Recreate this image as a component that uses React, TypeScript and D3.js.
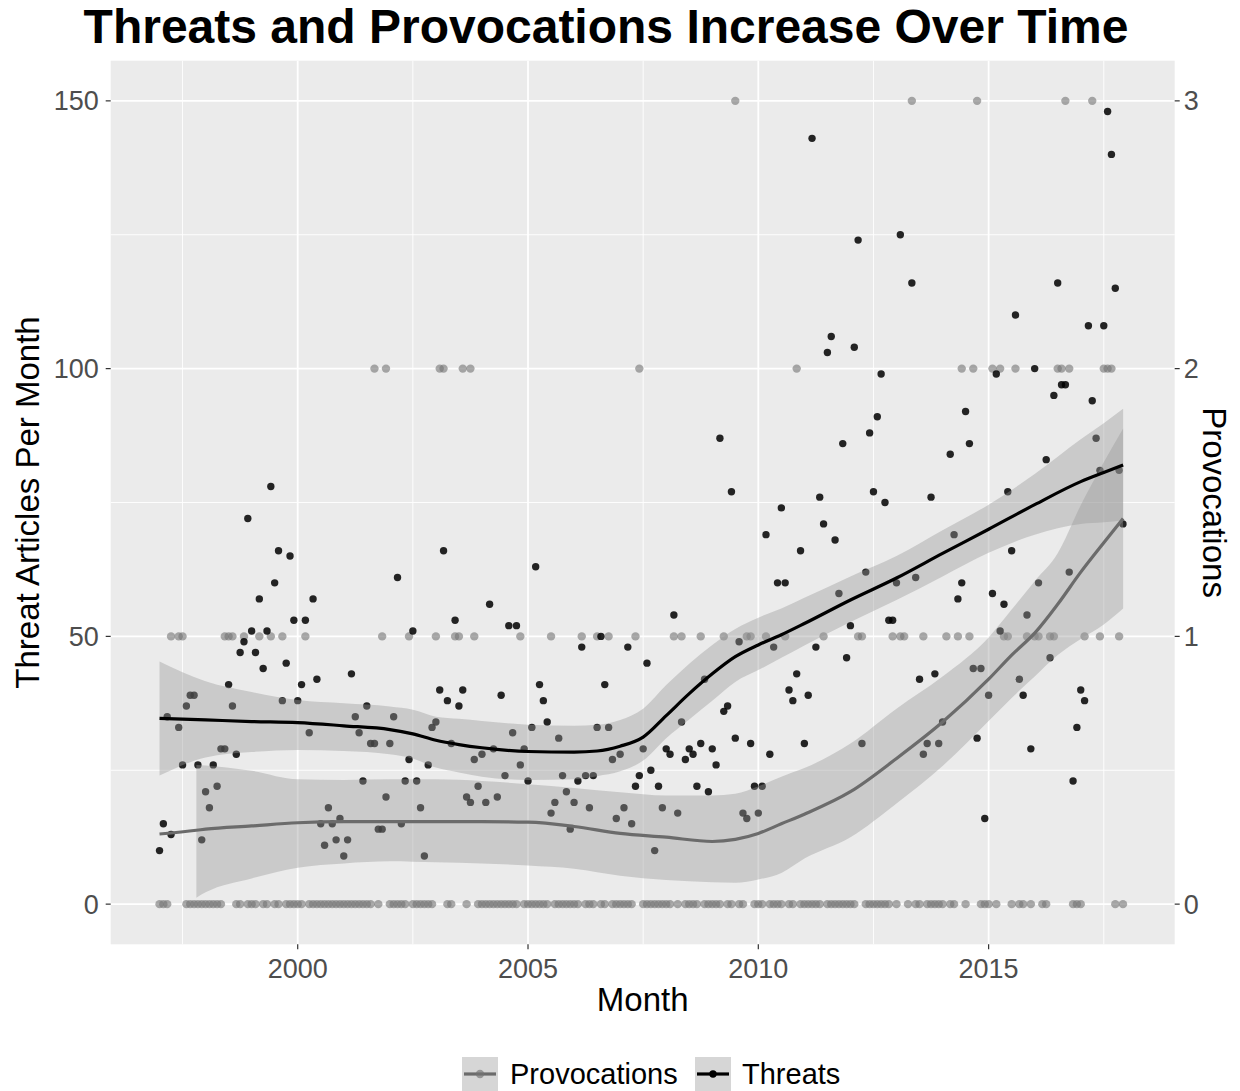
import React from "react";
import * as d3 from "d3";

// Monthly data, Jan 1997 .. Dec 2017 (index i -> 1997 + i/12)
const threats: (number | null)[] = [
  10, 15, 35, 13, null, 33, 26, 37, 39, 39, 26, 12,
  21, 18, 26, 22, 29, 29, 41, 37, 28, 47, 49, 72,
  51, 47, 57, 44, 51, 78, 60, 66, 38, 45, 65, 53,
  38, 41, 53, 32, 57, 42, 15, 11, 18, 15, 12, 16,
  9, 12, 43, 35, 32, 23, 37, 30, 30, 14, 14, 20,
  30, 35, 61, 15, 23, 27, 51, 23, 18, 9, 26, 33,
  34, 40, 66, 38, 30, 53, 37, 40, 20, 19, 27, 22,
  28, 19, 56, 29, 20, 39, 24, 52, 32, 52, 26, 29,
  23, 33, 63, 41, 38, 34, 17, 19, 31, 24, 21, 14,
  19, 23, 48, 24, 18, 24, 33, 50, 41, 33, 27, 16,
  28, 18, 48, 15, 22, 24, 29, 45, 25, 10, 22, 18,
  29, 28, 54, 17, 34, 27, 29, 28, 22, 30, 42, 21,
  29, 26, 87, 36, 37, 77, 31, 49, 17, 16, 30, 22,
  17, 22, 69, 28, 48, 60, 74, 60, 40, 38, 43, 66,
  30, 39, 143, 48, 76, 71, 103, 106, 68, 58, 86, 46,
  52, 104, 124, 30, 62, 88, 77, 91, 99, 75, 53, 53,
  60, 125, null, null, 116, 61, 42, 28, 30, 76, 43, 30,
  34, null, 84, 69, 57, 60, 92, 86, 44, 31, 44, 16,
  39, 58, 99, 51, 56, 77, 66, 110, 42, 39, 54, 29,
  100, 60, null, 83, 46, 95, 116, 97, 97, 62, 23, 33,
  40, 38, 108, 94, 87, 81, 108, 148, 140, 115, 81, 71,
];

const provocations: (number | null)[] = [
  0, 0, 0, 1, null, 1, 1, 0, 0, 0, 0, 0,
  0, 0, 0, 0, 0, 1, 1, 1, 0, 0, 1, 0,
  0, 0, 1, 0, 0, 1, 0, 0, 1, 0, 0, 0,
  0, 0, 1, 0, 0, 0, 0, 0, 0, 0, 0, 0,
  0, 0, 0, 0, 0, 0, 0, 0, 2, 0, 1, 2,
  0, 0, 0, 0, 0, 1, 0, 0, 0, 0, 0, 0,
  1, 2, 2, 0, 0, 1, 1, 2, 0, 2, 1, 0,
  0, 0, 0, 0, 0, 0, 0, 0, 0, 0, 1, 0,
  0, 0, 0, 0, 0, 0, 1, 0, 0, 0, 0, 0,
  0, 0, 1, 0, 0, 0, 1, 0, 0, 1, 0, 0,
  0, 0, 0, 0, 1, 2, 0, 0, 0, 0, 0, 0,
  0, 0, 1, 0, 1, 0, 0, 0, 0, 1, 0, 0,
  0, 0, 0, 1, 0, 0, 3, 0, 0, 1, 1, 0,
  0, 0, 1, 0, 0, 0, 0, 1, 0, 0, 2, 0,
  0, 0, 0, 0, 0, 1, 0, 0, 0, 0, 0, 0,
  0, 0, 1, 1, 0, 0, 0, 0, 0, 0, 0, 1,
  0, 1, 1, 0, 3, 0, 0, 1, 0, 0, 0, 0,
  0, 1, 0, 0, 1, 2, 0, 1, 2, 3, 0, 0,
  0, 2, 0, 2, 1, 1, 0, 2, 0, 0, 1, 0,
  1, 1, 0, 0, 1, 1, 2, 2, 3, 2, 0, 0,
  0, 1, null, 3, null, 1, 2, 2, 2, 0, 1, 0,
];

// Smoothed fits (year, fit, lower, upper), in left-axis units
const threatSmoothYear = [1997.0, 1998.0, 1999.0, 2000.0, 2001.0, 2002.0, 2002.5, 2003.0, 2003.5, 2004.0, 2005.0, 2006.0, 2006.5, 2007.0, 2007.5, 2008.0, 2008.5, 2009.0, 2009.5, 2010.0, 2010.5, 2011.0, 2012.0, 2013.0, 2014.0, 2015.0, 2016.0, 2017.0, 2017.5, 2017.92];
const threatFit = [34.7, 34.4, 34.1, 33.9, 33.3, 32.6, 31.8, 30.6, 29.8, 29.2, 28.5, 28.4, 28.6, 29.5, 31.2, 35.2, 39.3, 43.0, 46.2, 48.4, 50.3, 52.4, 56.8, 60.9, 65.5, 70.0, 74.6, 78.9, 80.6, 82.0];
const threatLow = [24.0, 27.4, 28.4, 28.8, 28.6, 28.0, 27.2, 25.5, 24.6, 23.8, 23.2, 23.3, 23.9, 24.8, 26.8, 31.0, 34.5, 38.0, 41.5, 43.7, 46.0, 48.3, 52.7, 56.8, 61.2, 65.6, 69.0, 71.0, 71.3, 71.7];
const threatHigh = [45.3, 41.6, 39.6, 38.1, 37.5, 36.9, 36.3, 35.0, 34.6, 34.2, 33.5, 33.3, 33.5, 34.4, 36.5, 40.9, 44.9, 48.4, 51.4, 53.5, 55.2, 57.2, 61.2, 65.0, 69.8, 74.6, 80.3, 86.8, 89.8, 92.5];

const provSmoothYear = [1997.0, 1997.8, 1998.0, 1999.0, 2000.0, 2001.0, 2002.0, 2003.0, 2004.0, 2005.0, 2006.0, 2007.0, 2008.0, 2009.0, 2009.5, 2010.0, 2010.5, 2011.0, 2012.0, 2013.0, 2014.0, 2015.0, 2015.5, 2016.0, 2016.5, 2017.0, 2017.5, 2017.92];
const provFit = [13.1, 13.8, 14.0, 14.6, 15.2, 15.4, 15.4, 15.4, 15.4, 15.3, 14.5, 13.2, 12.5, 11.7, 12.1, 13.2, 15.0, 16.8, 21.0, 27.2, 34.0, 42.0, 46.5, 50.6, 56.0, 62.0, 67.5, 72.0];
const provLow = [null, 1.2, 2.2, 4.8, 6.8, 7.6, 8.0, 7.8, 7.6, 7.2, 6.6, 5.3, 4.5, 4.1, 4.0, 4.6, 5.8, 8.5, 12.5, 18.8, 25.8, 34.2, 38.5, 42.5, 46.5, 49.5, 52.2, 55.2];
const provHigh = [null, 26.0, 25.9, 24.9, 23.3, 23.2, 23.3, 23.3, 23.0, 22.4, 21.7, 20.9, 20.3, 20.3, 20.6, 22.0, 23.8, 25.4, 30.0, 36.5, 42.5, 49.8, 55.0, 60.3, 65.5, 74.5, 82.5, 88.8];

const xTicks = [2000, 2005, 2010, 2015];
const xMinor = [1997.5, 2002.5, 2007.5, 2012.5, 2017.5];
const yTicks = [0, 50, 100, 150];
const yMinor = [25, 75, 125];
const rightTickLabels = ["0", "1", "2", "3"];
const provScale = 50;

const W = 1240;
const H = 1091;
const P = { left: 110.7, right: 1174.7, top: 60.7, bottom: 944.3 };
const FONT = "'Liberation Sans', Arial, Helvetica, sans-serif";

export default function App() {
  const x = d3.scaleLinear().domain([1995.94, 2019.04]).range([P.left, P.right]);
  const y = d3.scaleLinear().domain([-7.5, 157.5]).range([P.bottom, P.top]);
  const monthYear = (i: number) => 1997 + i / 12;

  const lineGen = d3
    .line<[number, number]>()
    .x((d) => x(d[0]))
    .y((d) => y(d[1]))
    .curve(d3.curveMonotoneX);
  const areaGen = d3
    .area<[number, number, number]>()
    .x((d) => x(d[0]))
    .y0((d) => y(d[1]))
    .y1((d) => y(d[2]))
    .curve(d3.curveMonotoneX);

  const threatLine = lineGen(threatSmoothYear.map((t, i) => [t, threatFit[i]]));
  const threatArea = areaGen(threatSmoothYear.map((t, i) => [t, threatLow[i], threatHigh[i]]));
  const provLine = lineGen(provSmoothYear.map((t, i) => [t, provFit[i]]));
  const provArea = areaGen(
    provSmoothYear
      .map((t, i) => [t, provLow[i], provHigh[i]] as [number, number | null, number | null])
      .filter((d) => d[1] !== null) as [number, number, number][]
  );

  const ribbonFill = "#999999";
  const ribbonOpacity = 0.4;
  const tickFont = 27;
  const titleFont = 33;

  return (
    <svg
      width={W}
      height={H}
      style={{ position: "absolute", left: 0, top: 0, background: "#fff" }}
      fontFamily={FONT}
    >
      <rect x={0} y={0} width={W} height={H} fill="#fff" />
      {/* panel */}
      <rect x={P.left} y={P.top} width={P.right - P.left} height={P.bottom - P.top} fill="#EBEBEB" />
      {yMinor.map((v) => (
        <line key={"ym" + v} x1={P.left} x2={P.right} y1={y(v)} y2={y(v)} stroke="#fff" strokeWidth={0.9} />
      ))}
      {xMinor.map((v) => (
        <line key={"xm" + v} x1={x(v)} x2={x(v)} y1={P.top} y2={P.bottom} stroke="#fff" strokeWidth={0.9} />
      ))}
      {yTicks.map((v) => (
        <line key={"yM" + v} x1={P.left} x2={P.right} y1={y(v)} y2={y(v)} stroke="#fff" strokeWidth={1.8} />
      ))}
      {xTicks.map((v) => (
        <line key={"xM" + v} x1={x(v)} x2={x(v)} y1={P.top} y2={P.bottom} stroke="#fff" strokeWidth={1.8} />
      ))}

      {/* points */}
      {provocations.map((v, i) =>
        v === null ? null : (
          <circle key={"p" + i} cx={x(monthYear(i))} cy={y(v * provScale)} r={4.2} fill="#737373" fillOpacity={0.6} />
        )
      )}
      {threats.map((v, i) =>
        v === null ? null : (
          <circle key={"t" + i} cx={x(monthYear(i))} cy={y(v)} r={3.7} fill="#000" fillOpacity={0.85} />
        )
      )}

      {/* ribbons and fits */}
      <path d={provArea || ""} fill={ribbonFill} fillOpacity={ribbonOpacity} />
      <path d={threatArea || ""} fill={ribbonFill} fillOpacity={ribbonOpacity} />
      <path d={provLine || ""} fill="none" stroke="#6b6b6b" strokeWidth={3.2} />
      <path d={threatLine || ""} fill="none" stroke="#000" strokeWidth={3.2} />

      {/* left axis */}
      {yTicks.map((v) => (
        <g key={"yl" + v}>
          <line x1={P.left - 5} x2={P.left} y1={y(v)} y2={y(v)} stroke="#333" strokeWidth={1.2} />
          <text x={P.left - 12} y={y(v)} dy="0.35em" textAnchor="end" fontSize={tickFont} fill="#4D4D4D">
            {v}
          </text>
        </g>
      ))}
      {/* right axis */}
      {yTicks.map((v, i) => (
        <g key={"yr" + v}>
          <line x1={P.right} x2={P.right + 5} y1={y(v)} y2={y(v)} stroke="#333" strokeWidth={1.2} />
          <text x={P.right + 9} y={y(v)} dy="0.35em" textAnchor="start" fontSize={tickFont} fill="#4D4D4D">
            {rightTickLabels[i]}
          </text>
        </g>
      ))}
      {/* bottom axis */}
      {xTicks.map((v) => (
        <g key={"xl" + v}>
          <line x1={x(v)} x2={x(v)} y1={P.bottom} y2={P.bottom + 5} stroke="#333" strokeWidth={1.2} />
          <text x={x(v)} y={P.bottom + 34} textAnchor="middle" fontSize={tickFont} fill="#4D4D4D">
            {v}
          </text>
        </g>
      ))}

      {/* axis titles */}
      <text x={(P.left + P.right) / 2} y={1011} textAnchor="middle" fontSize={titleFont} fill="#000">
        Month
      </text>
      <text
        transform={`translate(39, ${(P.top + P.bottom) / 2}) rotate(-90)`}
        textAnchor="middle"
        fontSize={titleFont}
        fill="#000"
      >
        Threat Articles Per Month
      </text>
      <text
        transform={`translate(1203, ${(P.top + P.bottom) / 2}) rotate(90)`}
        textAnchor="middle"
        fontSize={titleFont}
        fill="#000"
      >
        Provocations
      </text>

      {/* title */}
      <text x={606} y={43} textAnchor="middle" fontSize={48} fontWeight="bold" fill="#000">
        Threats and Provocations Increase Over Time
      </text>

      {/* legend */}
      <g transform="translate(462, 1057)">
        <rect x={0} y={0} width={36} height={34} fill={ribbonFill} fillOpacity={ribbonOpacity} />
        <line x1={2} x2={34} y1={17} y2={17} stroke="#6b6b6b" strokeWidth={3.2} />
        <circle cx={18} cy={17} r={4.2} fill="#737373" fillOpacity={0.65} />
        <text x={48} y={17} dy="0.35em" fontSize={29} fill="#000">
          Provocations
        </text>
        <rect x={233} y={0} width={36} height={34} fill={ribbonFill} fillOpacity={ribbonOpacity} />
        <line x1={235} x2={267} y1={17} y2={17} stroke="#000" strokeWidth={3.2} />
        <circle cx={251} cy={17} r={3.7} fill="#000" />
        <text x={280} y={17} dy="0.35em" fontSize={29} fill="#000">
          Threats
        </text>
      </g>
    </svg>
  );
}
